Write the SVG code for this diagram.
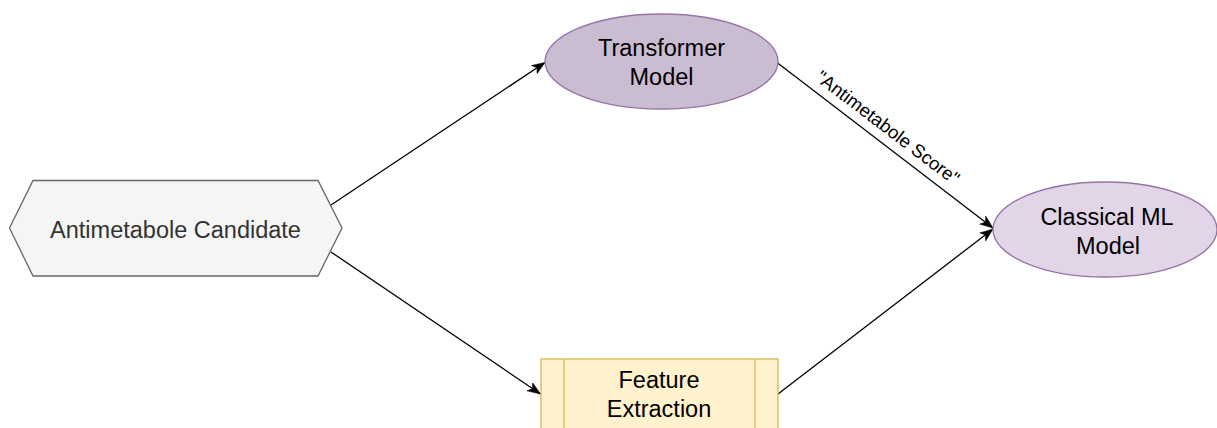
<svg xmlns="http://www.w3.org/2000/svg" width="1217" height="428" viewBox="0 0 1217 428">
  <style>
    .lbl { font-family: "Liberation Sans", Arial, Helvetica, sans-serif; font-size: 23.5px; text-anchor: middle; fill: #000000; }
    .edge { fill: none; stroke: #000000; stroke-width: 1.3; }
    .edge-lbl { font-family: "Liberation Sans", Arial, Helvetica, sans-serif; font-size: 18.5px; text-anchor: middle; fill: #000000; }
  </style>
  <defs>
    <marker id="arrow" markerUnits="userSpaceOnUse" markerWidth="14" markerHeight="12" refX="13" refY="5" orient="auto" viewBox="0 0 14 10">
      <path d="M0,0 L13,5 L0,10 L3.5,5 Z" fill="#000000" stroke="#000000" stroke-width="0.5"/>
    </marker>
  </defs>

  <rect width="1217" height="428" fill="#ffffff"/>

  <!-- connectors -->
  <g id="edges">
    <line class="edge" x1="331" y1="205" x2="545" y2="62.5" marker-end="url(#arrow)"/>
    <line class="edge" x1="331" y1="252" x2="540.5" y2="394" marker-end="url(#arrow)"/>
    <line class="edge" x1="777" y1="62.5" x2="993" y2="228" marker-end="url(#arrow)"/>
    <line class="edge" x1="778" y1="394" x2="993" y2="229" marker-end="url(#arrow)"/>
    <text class="edge-lbl" transform="translate(888,127.5) rotate(37.3)" y="6.5">"Antimetabole Score"</text>
  </g>

  <!-- input candidate -->
  <g id="candidate">
    <polygon points="9.5,228 33,180.5 318,180.5 342,228 318,276 33,276" fill="#f5f5f5" stroke="#666666" stroke-width="1.3"/>
    <text class="lbl" x="175.5" y="238" fill="#333333" style="fill:#333333">Antimetabole Candidate</text>
  </g>

  <!-- transformer model -->
  <g id="transformer">
    <ellipse cx="661.5" cy="61.5" rx="116.5" ry="47.5" fill="#cbbdd1" stroke="#9673a6" stroke-width="1.3"/>
    <text class="lbl" x="661.5" y="56">Transformer</text>
    <text class="lbl" x="661.5" y="85">Model</text>
  </g>

  <!-- classical model -->
  <g id="classical">
    <ellipse cx="1105" cy="229.5" rx="112" ry="47.5" fill="#e1d5e7" stroke="#9673a6" stroke-width="1.3"/>
    <text class="lbl" x="1107" y="225">Classical ML</text>
    <text class="lbl" x="1108" y="254">Model</text>
  </g>

  <!-- feature extraction -->
  <g id="features">
    <rect x="541" y="359" width="237" height="90" fill="#fff2cc" stroke="#d6b656" stroke-width="1.3"/>
    <line x1="564" y1="359" x2="564" y2="449" stroke="#d6b656" stroke-width="1.3"/>
    <line x1="755" y1="359" x2="755" y2="449" stroke="#d6b656" stroke-width="1.3"/>
    <text class="lbl" x="659" y="388">Feature</text>
    <text class="lbl" x="659" y="417">Extraction</text>
  </g>
</svg>
